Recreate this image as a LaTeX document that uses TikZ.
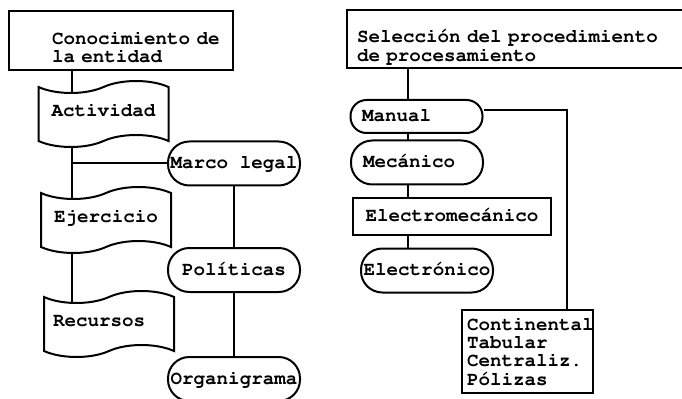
\documentclass[tikz,border=0pt]{standalone}
\usepackage[T1]{fontenc}
\usepackage{courier}
\usepackage{tikz}
\usetikzlibrary{shapes.symbols,backgrounds}
\setlength{\lineskiplimit}{-5pt}
\tikzset{flow/.style={x=0.75pt,y=-0.75pt,line width=1.5pt,
        font=\ttfamily\bfseries\fontsize{14.4pt}{13.75pt}\selectfont},
    titlebox/.style={rectangle,draw,fill=white,inner xsep=0pt,inner ysep=0pt,align=left,text height=22.5pt,text depth=16.5pt},
    doc/.style={tape,draw,fill=white,minimum width=97.5pt,minimum height=49.5pt,tape bend height=9pt,inner xsep=0pt,text height=9pt,text depth=5pt},
    oval/.style={rectangle,draw,fill=white,rounded corners=16pt,minimum width=99pt,minimum height=33pt,inner xsep=0pt,text height=9pt,text depth=1pt},
    plain/.style={rectangle,draw,fill=white,inner xsep=0pt},
    oneline/.style={text height=9pt,text depth=1pt},
    link/.style={draw,line width=1.5pt}}

\begin{document}
\begin{tikzpicture}[flow]
    \useasboundingbox (0,0) rectangle (682,399);
    % left column
    \node[titlebox,text width=103.5pt,minimum width=168pt,minimum height=44.25pt](ttl) at (121,40.5) {\mbox{Conocimiento de}\\la entidad};
    \node[doc](act) at (103.5,114) {Actividad};
    \node[doc](eje) at (106,220) {Ejercicio};
    \node[doc,align=left,text width=84pt](rec) at (109,324) {Recursos};
    \node[oval](mar) at (234,163.5) {Marco legal};
    \node[oval](pol) at (234,270) {Políticas};
    \node[oval](org) at (234,379) {Organigrama};
    \coordinate (trk) at (72,0);

    % right column
    \node[titlebox,text width=255pt,minimum width=270pt,minimum height=43.5pt](sel) at (527,39) {Selección del procedimiento\\de procesamiento};
    \node[oval,rounded corners=12pt,minimum height=24.75pt,align=left,text width=81.75pt](man) at (416.5,116.5) {Manual};
    \node[oval,align=left,text width=81pt](mec) at (417,162.5) {Mecánico};
    \node[plain,oneline,minimum width=148.5pt,minimum height=27.75pt](elm) at (452,216.5) {Electromecánico};
    \node[oval](eln) at (427,270.5) {Electrónico};
    \node[plain,align=left,text width=90.75pt,minimum width=98.25pt,minimum height=62.25pt,inner ysep=0pt,text height=10.5pt,text depth=42.75pt](con) at (527.5,351.5) {Continental\\Tabular\\Centraliz.\\Pólizas};
    \coordinate (spn) at (408,0);
    \coordinate (brn) at (567,0);

    \begin{scope}[on background layer]
        \path[link] (ttl.south -| trk) -- (rec.center -| trk);
        \path[link] (trk |- mar.west) -- (mar.west);
        \path[link] (mar) -- (pol);
        \path[link] (pol) -- (org);
        \path[link] (sel.south -| spn) -- (eln.center -| spn);
        \path[link] ([yshift=4.5pt]man.east) -| (brn |- con.north);
    \end{scope}
\end{tikzpicture}
\end{document}
